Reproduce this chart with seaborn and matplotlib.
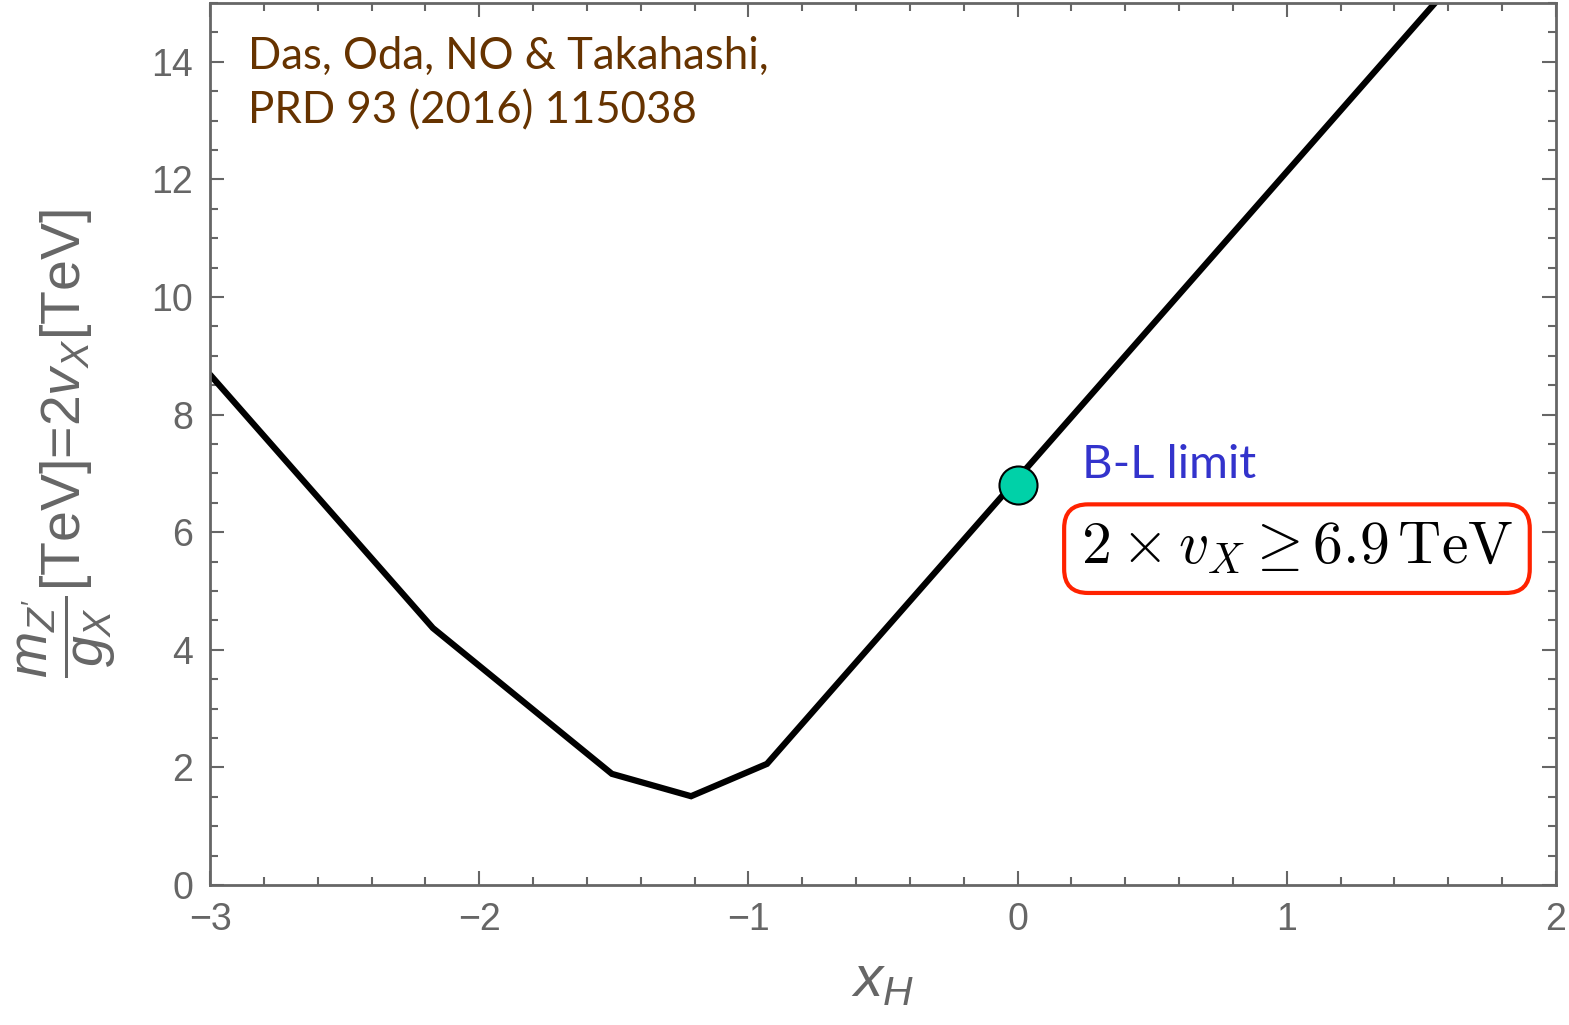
import numpy as np
import pandas as pd
import seaborn as sns
import matplotlib.pyplot as plt
from matplotlib.ticker import MultipleLocator

# lower bound on m_Z'/g_X as a function of x_H
x_H = [-3.0, -2.172, -1.507, -1.213, -0.931, 1.56]
mz_over_gx = [8.68, 4.37, 1.89, 1.51, 2.06, 15.05]

# B-L limit point
bl_x = [0.0]
bl_y = [6.80]

sns.set_theme(style='ticks')
plt.rcParams['font.family'] = ['Liberation Sans', 'DejaVu Sans']
plt.rcParams['mathtext.fontset'] = 'custom'
plt.rcParams['mathtext.rm'] = 'Liberation Sans'
plt.rcParams['mathtext.it'] = 'Liberation Sans:italic'

gray = '#666666'
df = pd.DataFrame({'x': x_H, 'y': mz_over_gx})

fig = plt.figure(figsize=(15.69, 10.25), dpi=100)
ax = fig.add_axes([210/1569, 1-885/1025, (1556-210)/1569, (885-3)/1025])

sns.lineplot(data=df, x='x', y='y', sort=False, color='black', lw=4.5, ax=ax,
             solid_joinstyle='miter')
sns.scatterplot(x=bl_x, y=bl_y, s=750, color='#00D1A8', edgecolor='black',
                linewidth=1.5, zorder=5, ax=ax)

ax.set_xlim(-3, 2)
ax.set_ylim(0, 15)
ax.xaxis.set_major_locator(MultipleLocator(1))
ax.xaxis.set_minor_locator(MultipleLocator(0.2))
ax.yaxis.set_major_locator(MultipleLocator(2))
ax.yaxis.set_minor_locator(MultipleLocator(0.5))
ax.tick_params(which='both', direction='in', top=True, right=True, color=gray,
               width=1.5, labelcolor=gray, labelsize=27)
ax.tick_params(which='major', length=10, pad=12)
ax.tick_params(which='minor', length=6)
for s in ax.spines.values():
    s.set_color(gray)
    s.set_linewidth(2)

ax.set_xlabel('$x_H$', fontsize=42, color=gray, labelpad=12)
ax.set_ylabel(r"$\dfrac{m_{Z'}}{g_X}$[TeV]=2$v_X$[TeV]", fontsize=40,
              color=gray)
ax.yaxis.set_label_coords(-0.068, 0.5)

ax.text(0.028, 0.963, 'Das, Oda, NO & Takahashi,\nPRD 93 (2016) 115038',
        transform=ax.transAxes, ha='left', va='top', fontsize=31.5,
        family='Lato', color='#663300', linespacing=1.4)
ax.text(0.238, 7.15, 'B-L limit', fontsize=34, family='Lato', color='#3333CC',
        ha='left', va='center')
ax.text(0.235, 5.72, r'$2\times v_X \geq 6.9\,\mathrm{TeV}$', fontsize=43,
        math_fontfamily='cm', color='black', ha='left', va='center',
        bbox=dict(boxstyle='round,pad=0.28,rounding_size=0.4', fc='white',
                  ec='#FF2200', lw=3))

fig.savefig('out.png', dpi=100)
